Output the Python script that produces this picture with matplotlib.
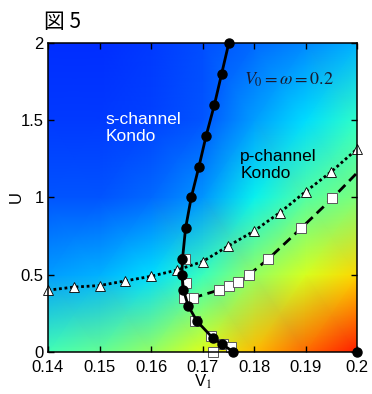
import numpy as np
import matplotlib
matplotlib.use('Agg')
import matplotlib.pyplot as plt

plt.rcParams['font.family'] = ['Liberation Sans', 'DejaVu Sans']
plt.rcParams['mathtext.fontset'] = 'stix'

# Fondo: valor (escala jet) en una malla gruesa V1 x U
fondo_v1 = [0.14, 0.15, 0.16, 0.17, 0.18, 0.19, 0.20]
fondo_u = [0.0, 0.5, 1.0, 1.5, 2.0]
fondo_val = [
    [0.43, 0.47, 0.53, 0.62, 0.71, 0.80, 0.88],
    [0.28, 0.30, 0.34, 0.42, 0.53, 0.61, 0.68],
    [0.21, 0.21, 0.23, 0.27, 0.36, 0.45, 0.50],
    [0.18, 0.18, 0.19, 0.21, 0.28, 0.34, 0.41],
    [0.17, 0.17, 0.18, 0.20, 0.23, 0.26, 0.30],
]

# Frontera s/p (círculos negros)
circ_v1 = [0.1751, 0.1737, 0.1723, 0.1707, 0.1693, 0.1678, 0.1667, 0.1661,
           0.1660, 0.1663, 0.1672, 0.1689, 0.1720, 0.1738, 0.1760]
circ_u = [2.0, 1.8, 1.6, 1.4, 1.2, 1.0, 0.8, 0.6, 0.5, 0.4, 0.3, 0.2, 0.09, 0.05, 0.0]
esquina_v1 = [0.2]
esquina_u = [0.0]

# Triángulos (línea punteada)
tri_v1 = [0.140, 0.145, 0.150, 0.155, 0.160, 0.165, 0.170,
          0.175, 0.180, 0.185, 0.190, 0.195, 0.200]
tri_u = [0.40, 0.42, 0.43, 0.46, 0.49, 0.53, 0.585,
         0.686, 0.783, 0.902, 1.038, 1.167, 1.314]

# Cuadrados (línea discontinua); el último punto sólo prolonga la línea
cuad_v1 = [0.1681, 0.1731, 0.1752, 0.1769, 0.1790, 0.1827, 0.1891, 0.1952, 0.2]
cuad_u = [0.35, 0.40, 0.425, 0.45, 0.50, 0.60, 0.80, 0.995, 1.16]

# Cuadrados sueltos junto a la frontera
suelto_v1 = [0.1666, 0.1667, 0.1664, 0.1685, 0.1716, 0.1739, 0.1755, 0.1721]
suelto_u = [0.6, 0.445, 0.35, 0.2, 0.105, 0.05, 0.03, 0.0]

fig = plt.figure(figsize=(3.72, 3.94), dpi=100)
ax = fig.add_axes([0.129, 0.1066, 0.831, 0.7844])

X, Y = np.meshgrid(fondo_v1, fondo_u)
ax.pcolormesh(X, Y, np.array(fondo_val), cmap='jet', vmin=0, vmax=1,
              shading='gouraud', zorder=0, rasterized=True)

ax.plot(tri_v1, tri_u, color='k', lw=2, dashes=(1, 1), marker='^', ms=7,
        mfc='white', mec='k', mew=0.6, clip_on=False, zorder=3)
ax.plot(cuad_v1, cuad_u, color='k', lw=2, dashes=(3.5, 2), marker='s', ms=7.5,
        mfc='white', mec='0.35', mew=0.7, markevery=list(range(len(cuad_v1) - 1)),
        clip_on=False, zorder=3)
ax.plot(suelto_v1, suelto_u, ls='none', marker='s', ms=7.5, mfc='white',
        mec='0.35', mew=0.7, clip_on=False, zorder=3)
ax.plot(circ_v1, circ_u, color='k', lw=2, marker='o', ms=6.5, clip_on=False, zorder=4)
ax.plot(esquina_v1, esquina_u, ls='none', color='k', marker='o', ms=6.5,
        clip_on=False, zorder=4)

ax.text(0.1511, 1.555, 's-channel\nKondo', color='white', fontsize=12.5,
        va='top', ha='left', linespacing=1.15)
ax.text(0.1773, 1.315, 'p-channel\nKondo', color='black', fontsize=12.5,
        va='top', ha='left', linespacing=1.15)
ax.text(0.1781, 1.76, r'$V_0=\omega=0.2$', fontsize=13, va='center', ha='left',
        color='#1a1a2e')

ax.set_xlim(0.14, 0.2)
ax.set_ylim(0, 2)
ax.set_xticks([0.14, 0.15, 0.16, 0.17, 0.18, 0.19, 0.2])
ax.set_xticklabels(['0.14', '0.15', '0.16', '0.17', '0.18', '0.19', '0.2'])
ax.set_yticks([0, 0.5, 1, 1.5, 2])
ax.set_yticklabels(['0', '0.5', '1', '1.5', '2'])
ax.tick_params(direction='in', top=True, right=True, length=4, width=1,
               labelsize=12, pad=3)
ax.tick_params(axis='x', pad=5.5)
for sp in ax.spines.values():
    sp.set_linewidth(1.1)
    sp.set_zorder(5)

ax.set_xlabel('V$_1$', fontsize=12)
ax.set_ylabel('U', fontsize=12)
ax.xaxis.set_label_coords(0.5, -0.068)
ax.yaxis.set_label_coords(-0.08, 0.5)

fig.text(0.119, 0.943, '図 5', fontsize=15, va='center', ha='left',
         family=['Noto Sans CJK JP', 'DejaVu Sans'])

fig.savefig('out.png', dpi=100)
